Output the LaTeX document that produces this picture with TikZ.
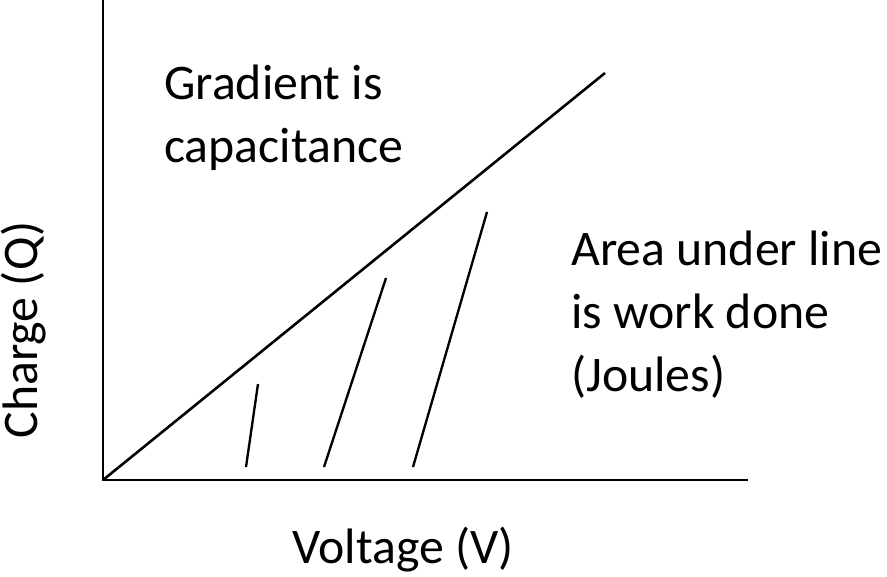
\documentclass[tikz,border=0pt]{standalone}
\usepackage{fontspec}
\setmainfont{Carlito}
\usetikzlibrary{positioning}
\tikzset{
        axis/.style={line width=2.2pt}, % axes and gradient line
        hatch/.style={line width=2pt}, % area strokes
        lbl/.style={font=\fontsize{42.5}{53.5}\selectfont, align=left, inner sep=0pt}, % text
    }
\begin{document}
\begin{tikzpicture}[x=0.03cm, y=0.03cm]
    \useasboundingbox (0,0) rectangle (887,576);
    \coordinate (O) at (103,96);
    \coordinate (top) at (103,576);
    \coordinate (right) at (748,96);
    \coordinate (end) at (605,503);
    \draw[axis] (top) -- (O) -- (right);
    \draw[axis] (O) -- (end);
    % strokes under the line
    \coordinate (h1a) at (246,109); \coordinate (h1b) at (258,192);
    \coordinate (h2a) at (324,109); \coordinate (h2b) at (386,298);
    \coordinate (h3a) at (413,109); \coordinate (h3b) at (487,364);
    \draw[hatch] (h1a) -- (h1b);
    \draw[hatch] (h2a) -- (h2b);
    \draw[hatch] (h3a) -- (h3b);
    \node[lbl, anchor=north west] (grad) at (164,511) {Gradient is\\capacitance};
    \node[lbl, anchor=north west] (area) at (571,345) {Area under line\\is work done\\(Joules)};
    \node[lbl] (volt) at (403,26) {Voltage (V)};
    \node[lbl, rotate=90] (charge) at (24,246) {Charge (Q)};
\end{tikzpicture}
\end{document}
